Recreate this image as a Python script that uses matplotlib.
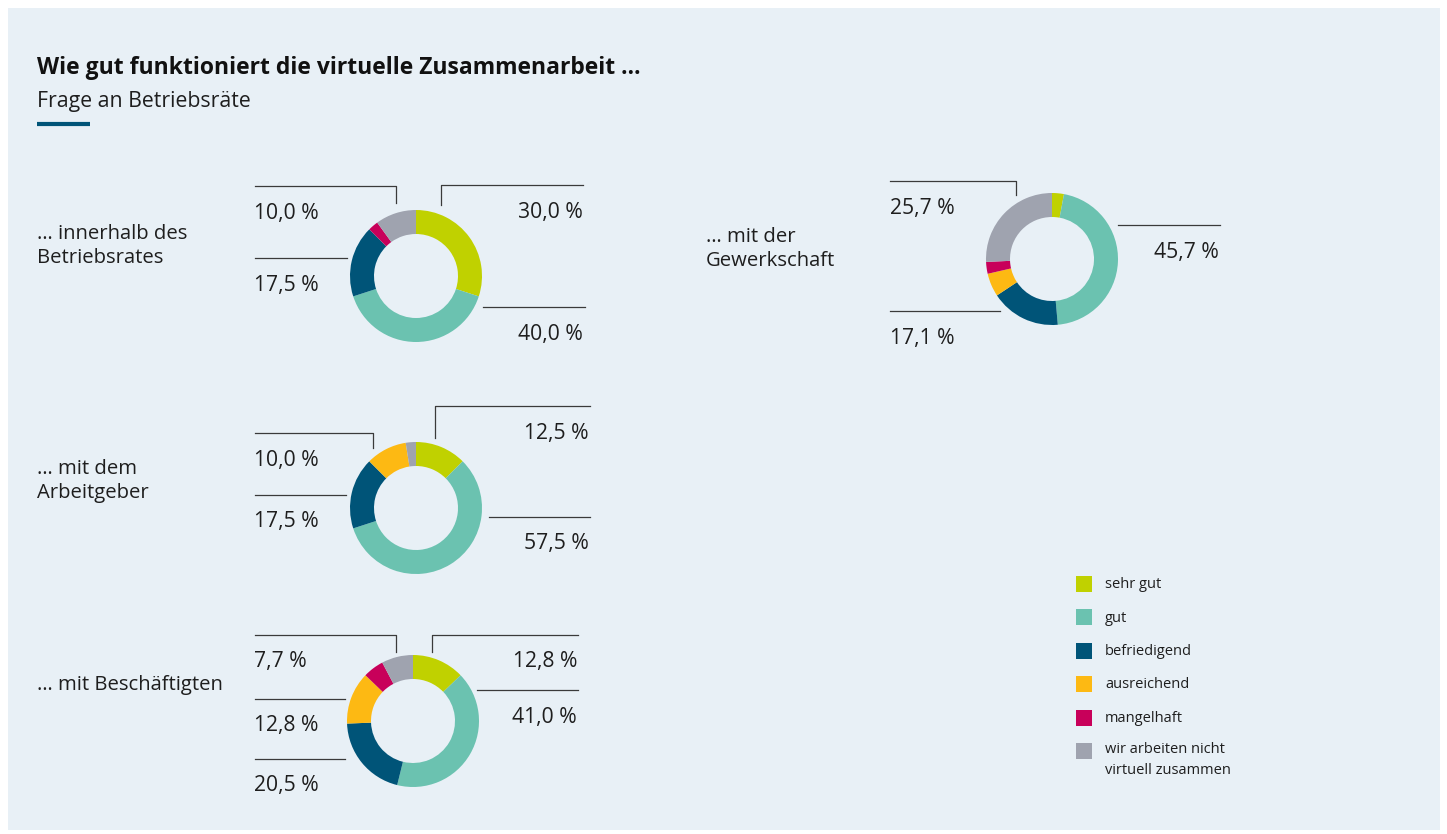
import matplotlib
matplotlib.use("Agg")
import matplotlib.pyplot as plt
from matplotlib.patches import Rectangle

plt.rcParams['font.family'] = ['Open Sans', 'DejaVu Sans']

# ---------------- data ----------------
categories = ["sehr gut", "gut", "befriedigend", "ausreichend", "mangelhaft",
              "wir arbeiten nicht\nvirtuell zusammen"]
colors = ["#c0d100", "#6bc2b0", "#005478", "#fdb913", "#c8005a", "#9fa3af"]

groups = ["… innerhalb des\nBetriebsrates", "… mit dem\nArbeitgeber",
          "… mit Beschäftigten", "… mit der\nGewerkschaft"]
betriebsrat = [30.0, 40.0, 17.5, 0.0, 2.5, 10.0]
arbeitgeber = [12.5, 57.5, 17.5, 10.0, 0.0, 2.5]
beschaeftigte = [12.8, 41.0, 20.5, 12.8, 5.1, 7.7]
gewerkschaft = [2.9, 45.7, 17.1, 5.7, 2.9, 25.7]
series = [betriebsrat, arbeitgeber, beschaeftigte, gewerkschaft]

# which slice index each label belongs to, per chart
labelled = [
    [0, 1, 5, 2],
    [0, 1, 3, 2],
    [0, 1, 5, 3, 2],
    [5, 1, 2],
]

title = "Wie gut funktioniert die virtuelle Zusammenarbeit …"
subtitle = "Frage an Betriebsräte"

# ---------------- layout (pixels, y from top) ----------------
W, H = 1447, 834
centers = [(416, 276), (416, 508), (413, 721), (1052, 259)]
R_OUT, R_W = 66, 24
group_pos = [(37, 246), (37, 481), (37, 685), (706, 249)]

# leader lines: list of polyline points; label: (x, y, ha)
leaders = [
    [  # chart 1
        ([(441, 205), (441, 185), (583, 185)], (583, 212, 'right')),
        ([(483, 307), (585, 307)], (583, 334, 'right')),
        ([(396, 203), (396, 186), (255, 186)], (254, 213, 'left')),
        ([(347, 258), (255, 258)], (254, 285, 'left')),
    ],
    [  # chart 2
        ([(435, 438), (435, 406), (590, 406)], (589, 433, 'right')),
        ([(489, 517), (590, 517)], (589, 544, 'right')),
        ([(373, 448), (373, 433), (255, 433)], (254, 460, 'left')),
        ([(346, 495), (255, 495)], (254, 522, 'left')),
    ],
    [  # chart 3
        ([(432, 652), (432, 635), (578, 635)], (577, 662, 'right')),
        ([(477, 690), (578, 690)], (577, 717, 'right')),
        ([(396, 652), (396, 635), (255, 635)], (254, 662, 'left')),
        ([(345, 699), (255, 699)], (254, 725, 'left')),
        ([(345, 759), (255, 759)], (254, 785, 'left')),
    ],
    [  # chart 4
        ([(1016, 195), (1016, 181), (890, 181)], (890, 208, 'left')),
        ([(1118, 225), (1220, 225)], (1219, 252, 'right')),
        ([(1000, 311), (890, 311)], (890, 338, 'left')),
    ],
]

legend_x, legend_y0, legend_dy = 1076, 583.5, 33.5

# ---------------- drawing ----------------
fig = plt.figure(figsize=(W / 100, H / 100), dpi=100)
fig.patch.set_facecolor("white")
ax = fig.add_axes([0, 0, 1, 1])
ax.set_axis_off()

def Y(py):
    return H - py

ax.add_patch(Rectangle((8, Y(830)), 1432, 822, facecolor="#e8f0f6",
                       edgecolor="none", zorder=0))

txt = "#1e1e1e"
line_c = "#3a3a3a"

ax.text(37, Y(68), title, fontsize=16.5, fontweight="bold", color="#111111",
        ha="left", va="center")
ax.text(37, Y(101), subtitle, fontsize=15.3, color=txt, ha="left", va="center")
ax.plot([37, 90], [Y(124), Y(124)], color="#005478", lw=3, solid_capstyle="butt")

def fmt(v):
    return f"{v:.1f}".replace(".", ",") + " %"

for vals, (cx, cy), grp, gp, leads, idxs in zip(series, centers, groups,
                                                 group_pos, leaders, labelled):
    ax.pie(vals, colors=colors, startangle=90, counterclock=False,
           center=(cx, Y(cy)), radius=R_OUT,
           wedgeprops=dict(width=R_W, edgecolor="none", linewidth=0))
    ax.text(gp[0], Y(gp[1]), grp, fontsize=14.6, color=txt, ha="left",
            va="center", linespacing=1.3)
    for (pts, (lx, ly, ha)), i in zip(leads, idxs):
        xs = [p[0] for p in pts]
        ys = [Y(p[1]) for p in pts]
        ax.plot(xs, ys, color=line_c, lw=0.9)
        ax.text(lx, Y(ly), fmt(vals[i]), fontsize=15.2, color=txt, ha=ha,
                va="center")

for k, (cat, col) in enumerate(zip(categories, colors)):
    y = legend_y0 + k * legend_dy
    ax.add_patch(Rectangle((legend_x, Y(y + 8)), 16, 16, facecolor=col,
                           edgecolor="none"))
    if "\n" in cat:
        ax.text(1105, Y(y - 9), cat, fontsize=10.5, color=txt, ha="left",
                va="top", linespacing=1.5)
    else:
        ax.text(1105, Y(y + 1), cat, fontsize=10.5, color=txt, ha="left",
                va="center")

ax.set_xlim(0, W)
ax.set_ylim(0, H)
ax.set_aspect("auto")

fig.savefig("out.png", dpi=100, facecolor="white")
